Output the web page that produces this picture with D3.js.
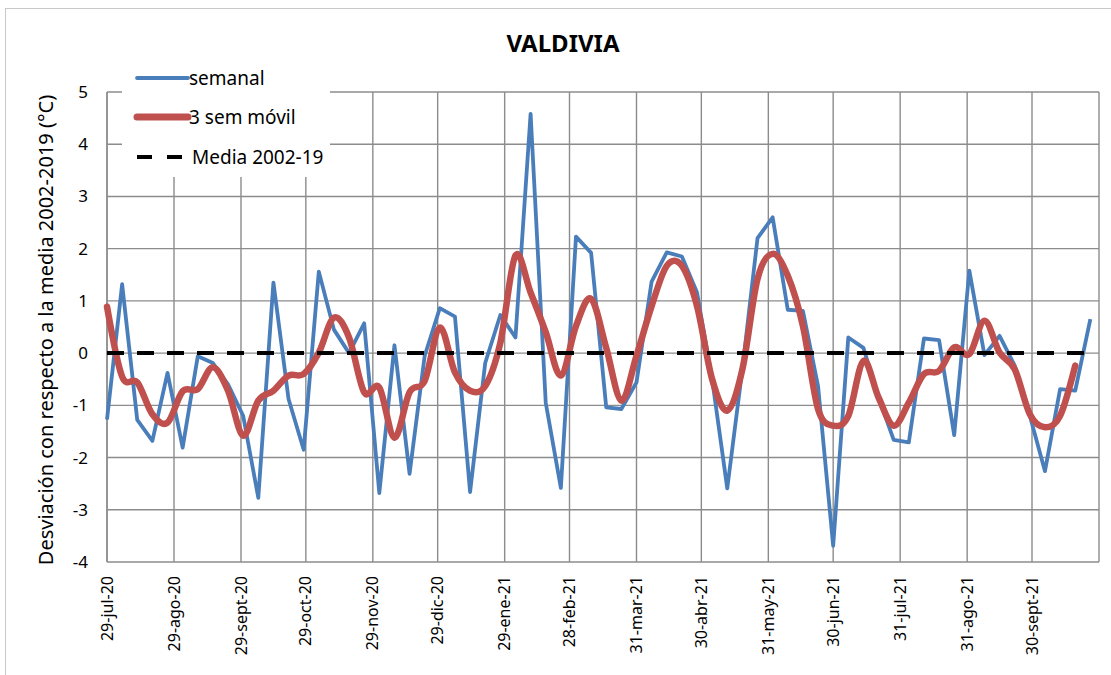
<!DOCTYPE html>
<html>
<head>
<meta charset="utf-8">
<script src="https://cdn.jsdelivr.net/npm/d3@7"></script>
<style>
  body { margin: 0; background: #fff; }
  svg { display: block; font-family: "Noto Sans", sans-serif; }
</style>
</head>
<body>
<svg id="chart" width="1111" height="675"></svg>
<script>
// weekly deviation (°C) vs 2002-2019 mean, Valdivia
const semanal = [-1.27, 1.32, -1.28, -1.68, -0.38, -1.81, -0.06, -0.19, -0.6, -1.2,
  -2.77, 1.35, -0.88, -1.85, 1.56, 0.45, 0.0, 0.57, -2.68, 0.15,
  -2.31, -0.05, 0.86, 0.70, -2.66, -0.19, 0.73, 0.30, 4.58, -0.95,
  -2.58, 2.23, 1.92, -1.04, -1.07, -0.56, 1.37, 1.93, 1.85, 1.16,
  -0.5, -2.59, -0.3, 2.2, 2.6, 0.83, 0.81, -0.63, -3.69, 0.30,
  0.10, -0.85, -1.66, -1.71, 0.28, 0.25, -1.57, 1.58, -0.04, 0.33,
  -0.24, -1.2, -2.26, -0.69, -0.72, 0.65];

// 3-week moving average (one value shorter)
const movil = [0.89, -0.45, -0.56, -1.17, -1.33, -0.73, -0.69, -0.27, -0.72, -1.58,
  -0.91, -0.72, -0.43, -0.40, 0.01, 0.68, 0.3, -0.75, -0.66, -1.62,
  -0.75, -0.53, 0.49, -0.37, -0.72, -0.63, 0.2, 1.87, 1.16, 0.4,
  -0.43, 0.52, 1.04, 0.1, -0.91, -0.05, 0.9, 1.67, 1.67, 0.9,
  -0.5, -1.1, -0.31, 1.42, 1.9, 1.48, 0.52, -1.07, -1.39, -1.2,
  -0.15, -0.85, -1.39, -0.95, -0.4, -0.34, 0.11, -0.02, 0.62, 0.01,
  -0.31, -1.17, -1.42, -1.2, -0.24];

const media = 0;

const parse = d3.timeParse("%Y-%m-%d");
const firstWeek = parse("2020-07-29");
const semanas = d3.timeDay.range(firstWeek, parse("2021-10-28"), 7);

const tickDates = ["2020-07-29", "2020-08-29", "2020-09-29", "2020-10-29", "2020-11-29",
  "2020-12-29", "2021-01-29", "2021-02-28", "2021-03-31", "2021-04-30", "2021-05-31",
  "2021-06-30", "2021-07-31", "2021-08-31", "2021-09-30"];
const tickLabels = ["29-jul-20", "29-ago-20", "29-sept-20", "29-oct-20", "29-nov-20",
  "29-dic-20", "29-ene-21", "28-feb-21", "31-mar-21", "30-abr-21", "31-may-21",
  "30-jun-21", "31-jul-21", "31-ago-21", "30-sept-21"];
const yTicks = [5, 4, 3, 2, 1, 0, -1, -2, -3, -4];

const svg = d3.select("#chart");
const plotL = 107, plotR = 1099, plotT = 92, plotB = 562;

const x = d3.scaleTime()
  .domain([firstWeek, parse("2021-10-31")])
  .range([plotL, plotR]);
const y = d3.scaleLinear().domain([-4, 5]).range([plotB, plotT]);

// outer frame
svg.append("rect")
  .attr("x", 5.5).attr("y", 8.5)
  .attr("width", 1130).attr("height", 700)
  .attr("fill", "none").attr("stroke", "#c8c8c8").attr("stroke-width", 1);

// title
svg.append("text")
  .attr("x", 563).attr("y", 52)
  .attr("text-anchor", "middle")
  .style("font-size", "24px").style("font-weight", "bold")
  .text("VALDIVIA");

// gridlines
const grid = svg.append("g").attr("stroke", "#8c8c8c").attr("stroke-width", 1.4);
grid.selectAll(".hg").data(yTicks).enter().append("line")
  .attr("x1", plotL).attr("x2", plotR)
  .attr("y1", d => y(d)).attr("y2", d => y(d));
grid.selectAll(".vg").data(tickDates.concat(["2021-10-31"])).enter().append("line")
  .attr("x1", d => x(parse(d))).attr("x2", d => x(parse(d)))
  .attr("y1", plotT).attr("y2", plotB);
grid.append("line").attr("x1", plotL).attr("x2", plotL).attr("y1", plotT).attr("y2", plotB);

// y tick labels
svg.append("g").selectAll("text").data(yTicks).enter().append("text")
  .attr("x", 88).attr("y", d => y(d))
  .attr("dy", "0.35em").attr("text-anchor", "end")
  .style("font-size", "17px")
  .text(d => d);

// x tick labels
svg.append("g").selectAll("text").data(tickDates).enter().append("text")
  .attr("transform", d => `translate(${x(parse(d))},576) rotate(-90)`)
  .attr("dy", "0.35em").attr("text-anchor", "end")
  .style("font-size", "16px")
  .text((d, i) => tickLabels[i]);

// y axis title
svg.append("text")
  .attr("transform", "translate(46,330) rotate(-90)")
  .attr("dy", "0.35em").attr("text-anchor", "middle")
  .style("font-size", "20px")
  .text("Desviación con respecto a la media 2002-2019 (°C)");

// series
const lineSem = d3.line()
  .x((d, i) => x(semanas[i]))
  .y(d => y(d));
const lineMov = d3.line()
  .x((d, i) => x(semanas[i]))
  .y(d => y(d))
  .curve(d3.curveCardinal.tension(0));

svg.append("path").datum(semanal)
  .attr("d", lineSem)
  .attr("fill", "none").attr("stroke", "#4a7ebb")
  .attr("stroke-width", 3.8).attr("stroke-linejoin", "round");

svg.append("path").datum(movil)
  .attr("d", lineMov)
  .attr("fill", "none").attr("stroke", "#c0504d")
  .attr("stroke-width", 6.5).attr("stroke-linecap", "round").attr("stroke-linejoin", "round");

svg.append("line")
  .attr("x1", x(semanas[0])).attr("x2", x(semanas[semanas.length - 1]))
  .attr("y1", y(media)).attr("y2", y(media))
  .attr("stroke", "#000").attr("stroke-width", 4)
  .attr("stroke-dasharray", "17,13");

// legend
const legend = svg.append("g");
legend.append("rect")
  .attr("x", 122).attr("y", 58).attr("width", 208).attr("height", 119)
  .attr("fill", "#fff");
const legItems = [
  { name: "semanal", color: "#4a7ebb", w: 3.8, dash: null, cy: 78, tx: 189 },
  { name: "3 sem móvil", color: "#c0504d", w: 7, dash: null, cy: 117, tx: 189 },
  { name: "Media 2002-19", color: "#000", w: 4, dash: "15,15", cy: 157, tx: 192 }
];
legItems.forEach(it => {
  legend.append("line")
    .attr("x1", 137).attr("x2", it.dash ? 182 : 188)
    .attr("y1", it.cy).attr("y2", it.cy)
    .attr("stroke", it.color).attr("stroke-width", it.w)
    .attr("stroke-linecap", it.dash ? "butt" : "round")
    .attr("stroke-dasharray", it.dash);
  legend.append("text")
    .attr("x", it.tx).attr("y", it.cy)
    .attr("dy", "0.35em")
    .style("font-size", "19px")
    .text(it.name);
});
</script>
</body>
</html>
